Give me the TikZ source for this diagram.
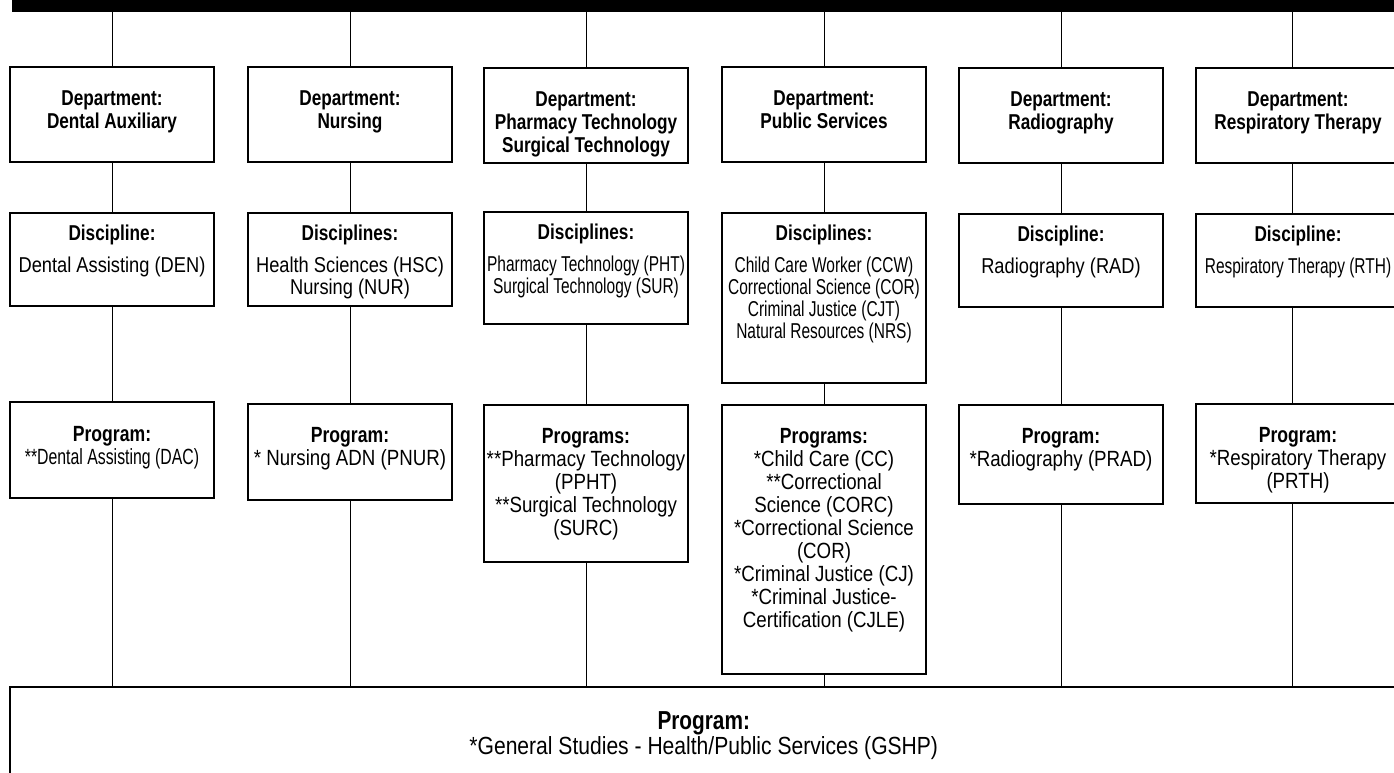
\documentclass[tikz,border=0pt]{standalone}
\usepackage{fontspec}
\setmainfont{Liberation Sans}[FakeStretch=0.85, BoldFeatures={FakeStretch=0.80}]
\newfontfamily\narrowfont{Liberation Sans}[FakeStretch=0.72, BoldFeatures={FakeStretch=0.80}]
\usetikzlibrary{positioning}

\begin{document}
\begin{tikzpicture}[x=1pt, y=-1pt,
  box/.style={draw, line width=1.5pt, minimum width=204pt, inner sep=0pt},
  link/.style={line width=1pt},
  depttext/.style={align=center, inner sep=0pt, font=\fontsize{21.5}{23}\selectfont\bfseries},
  disctext/.style={align=center, inner sep=0pt, font=\fontsize{21.5}{22}\selectfont},
  progtext/.style={align=center, inner sep=0pt, font=\fontsize{22}{23}\selectfont}]
  \useasboundingbox (0,0) rectangle (1394,772);
  \clip (0,0) rectangle (1394,772);

  % top bar
  \node[fill, inner sep=0pt, minimum width=1400pt, minimum height=22pt, anchor=south west] (bar) at (12,12) {};

  % departments
  \node[box, anchor=north, minimum height=95pt] (dep1) at (112,66) {};
  \node[box, anchor=north, minimum height=95pt] (dep2) at (350,66) {};
  \node[box, anchor=north, minimum height=95pt] (dep3) at (586,67) {};
  \node[box, anchor=north, minimum height=95pt] (dep4) at (824,66) {};
  \node[box, anchor=north, minimum height=95pt] (dep5) at (1061,67) {};
  \node[box, anchor=north, minimum height=95pt] (dep6) at (1298,67) {};
  \node[depttext, below=25pt of dep1.north] (dep1t) {Department:\\Dental Auxiliary};
  \node[depttext, below=25pt of dep2.north] (dep2t) {Department:\\Nursing};
  \node[depttext, below=25pt of dep3.north] (dep3t) {Department:\\Pharmacy Technology\\Surgical Technology};
  \node[depttext, below=25pt of dep4.north] (dep4t) {Department:\\Public Services};
  \node[depttext, below=25pt of dep5.north] (dep5t) {Department:\\Radiography};
  \node[depttext, below=25pt of dep6.north] (dep6t) {Department:\\Respiratory Therapy};

  % disciplines
  \node[box, anchor=north, minimum height=93pt] (dis1) at (112,212) {};
  \node[box, anchor=north, minimum height=93pt] (dis2) at (350,212) {};
  \node[box, anchor=north, minimum height=112pt] (dis3) at (586,211) {};
  \node[box, anchor=north, minimum height=170pt] (dis4) at (824,212) {};
  \node[box, anchor=north, minimum height=93pt] (dis5) at (1061,213) {};
  \node[box, anchor=north, minimum height=93pt] (dis6) at (1298,213) {};
  \node[disctext, below=13pt of dis1.north] (dis1t) {\textbf{Discipline:}\\[10pt]Dental Assisting (DEN)};
  \node[disctext, below=13pt of dis2.north] (dis2t) {\textbf{Disciplines:}\\[10pt]Health Sciences (HSC)\\Nursing (NUR)};
  \node[disctext, below=13pt of dis3.north] (dis3t) {\textbf{Disciplines:}\\[10pt]{\narrowfont Pharmacy Technology (PHT)}\\{\narrowfont Surgical Technology (SUR)}};
  \node[disctext, below=13pt of dis4.north] (dis4t) {\textbf{Disciplines:}\\[10pt]{\narrowfont Child Care Worker (CCW)}\\{\narrowfont Correctional Science (COR)}\\{\narrowfont Criminal Justice (CJT)}\\{\narrowfont Natural Resources (NRS)}};
  \node[disctext, below=13pt of dis5.north] (dis5t) {\textbf{Discipline:}\\[10pt]Radiography (RAD)};
  \node[disctext, below=13pt of dis6.north] (dis6t) {\textbf{Discipline:}\\[10pt]{\narrowfont Respiratory Therapy (RTH)}};

  % programs
  \node[box, anchor=north, minimum height=96pt] (pro1) at (112,401) {};
  \node[box, anchor=north, minimum height=96pt] (pro2) at (350,403) {};
  \node[box, anchor=north, minimum height=157pt] (pro3) at (586,404) {};
  \node[box, anchor=north, minimum height=269pt] (pro4) at (824,404) {};
  \node[box, anchor=north, minimum height=99pt] (pro5) at (1061,404) {};
  \node[box, anchor=north, minimum height=99pt] (pro6) at (1298,403) {};
  \node[progtext, below=25pt of pro1.north] (pro1t) {\textbf{Program:}\\{\narrowfont **Dental Assisting (DAC)}};
  \node[progtext, below=24pt of pro2.north] (pro2t) {\textbf{Program:}\\{}* Nursing ADN (PNUR)};
  \node[progtext, below=24pt of pro3.north] (pro3t) {\textbf{Programs:}\\{}**Pharmacy Technology\\(PPHT)\\{}**Surgical Technology\\(SURC)};
  \node[progtext, below=24pt of pro4.north] (pro4t) {\textbf{Programs:}\\{}*Child Care (CC)\\{}**Correctional\\Science (CORC)\\{}*Correctional Science\\(COR)\\{}*Criminal Justice (CJ)\\{}*Criminal Justice-\\Certification (CJLE)};
  \node[progtext, below=24pt of pro5.north] (pro5t) {\textbf{Program:}\\{}*Radiography (PRAD)};
  \node[progtext, below=24pt of pro6.north] (pro6t) {\textbf{Program:}\\{}*Respiratory Therapy\\(PRTH)};

  % general studies
  \node[box, anchor=north west, minimum width=1388pt, minimum height=94pt] (gen) at (9,686) {};
  \node[align=center, inner sep=0pt, font=\fontsize{24.8}{25}\selectfont, below=25pt of gen.north] (gent)
    {{\fontsize{26}{25}\selectfont\bfseries Program:}\\{}*General Studies - Health/Public Services (GSHP)};

  % connectors
  \draw[link] (dep1.north) -- (dep1.north |- bar.south);
  \draw[link] (dep2.north) -- (dep2.north |- bar.south);
  \draw[link] (dep3.north) -- (dep3.north |- bar.south);
  \draw[link] (dep4.north) -- (dep4.north |- bar.south);
  \draw[link] (dep5.north) -- (dep5.north |- bar.south);
  \draw[link] ([xshift=-6pt]dep6.north) -- ([xshift=-6pt]dep6.north |- bar.south);
  \draw[link] (dep1.south) -- (dis1.north);
  \draw[link] (dep2.south) -- (dis2.north);
  \draw[link] (dep3.south) -- (dis3.north);
  \draw[link] (dep4.south) -- (dis4.north);
  \draw[link] (dep5.south) -- (dis5.north);
  \draw[link] ([xshift=-6pt]dep6.south) -- ([xshift=-6pt]dis6.north);
  \draw[link] (dis1.south) -- (pro1.north);
  \draw[link] (dis2.south) -- (pro2.north);
  \draw[link] (dis3.south) -- (pro3.north);
  \draw[link] (dis4.south) -- (pro4.north);
  \draw[link] (dis5.south) -- (pro5.north);
  \draw[link] ([xshift=-6pt]dis6.south) -- ([xshift=-6pt]pro6.north);
  \draw[link] (pro1.south) -- (pro1.south |- gen.north);
  \draw[link] (pro2.south) -- (pro2.south |- gen.north);
  \draw[link] (pro3.south) -- (pro3.south |- gen.north);
  \draw[link] (pro4.south) -- (pro4.south |- gen.north);
  \draw[link] (pro5.south) -- (pro5.south |- gen.north);
  \draw[link] ([xshift=-6pt]pro6.south) -- ([xshift=-6pt]pro6.south |- gen.north);
\end{tikzpicture}
\end{document}
